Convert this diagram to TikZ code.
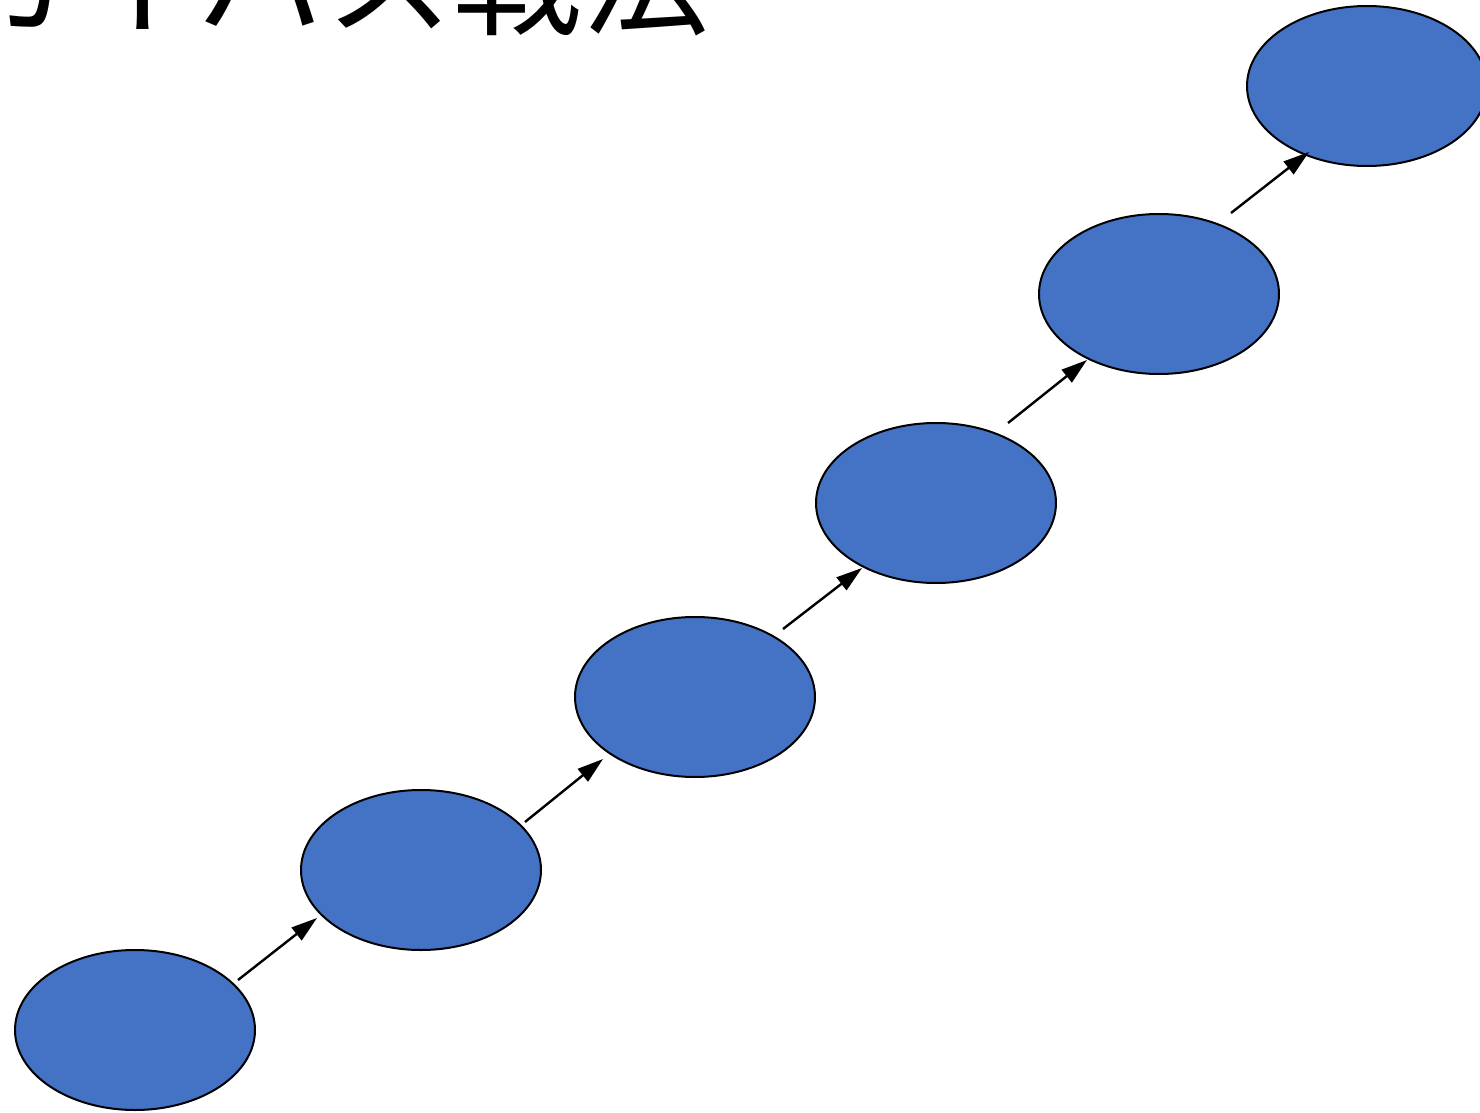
\documentclass[tikz,border=0pt]{standalone}
\usepackage{fontspec}
\newfontfamily\jpfont{Noto Sans CJK JP}
\usetikzlibrary{shapes.geometric,arrows.meta}
\definecolor{officeblue}{HTML}{4472C4}
\tikzset{
  blob/.style={ellipse, draw=black, line width=1pt, fill=officeblue,
    minimum width=120pt, minimum height=80pt, inner sep=0pt},
  arr/.style={-{Triangle[length=13pt,width=8pt]}, line width=1.2pt}
}
\begin{document}
\begin{tikzpicture}[x=0.5pt,y=-0.5pt]
\useasboundingbox (0,0) rectangle (1480,1113);
\clip (0,0) rectangle (1480,1113);
\node[anchor=base west, inner sep=0pt, font=\jpfont\fontsize{64pt}{70pt}\selectfont] (title) at (-56,26) {カイパス戦法};
\node[blob] (e1) at (135,1030) {};
\node[blob] (e2) at (421,870) {};
\node[blob] (e3) at (695,697) {};
\node[blob] (e4) at (936,503) {};
\node[blob] (e5) at (1159,294) {};
\node[blob] (e6) at (1367,86) {};
\draw[arr] ([shift={(103,-50)}]e1.center) -- ([shift={(-104,48)}]e2.center);
\draw[arr] ([shift={(104,-48)}]e2.center) -- ([shift={(-92,62)}]e3.center);
\draw[arr] ([shift={(88,-68)}]e3.center) -- ([shift={(-74,65)}]e4.center);
\draw[arr] ([shift={(72,-80)}]e4.center) -- ([shift={(-72,66)}]e5.center);
\draw[arr] ([shift={(72,-81)}]e5.center) -- ([shift={(-58,66)}]e6.center);
\end{tikzpicture}
\end{document}
